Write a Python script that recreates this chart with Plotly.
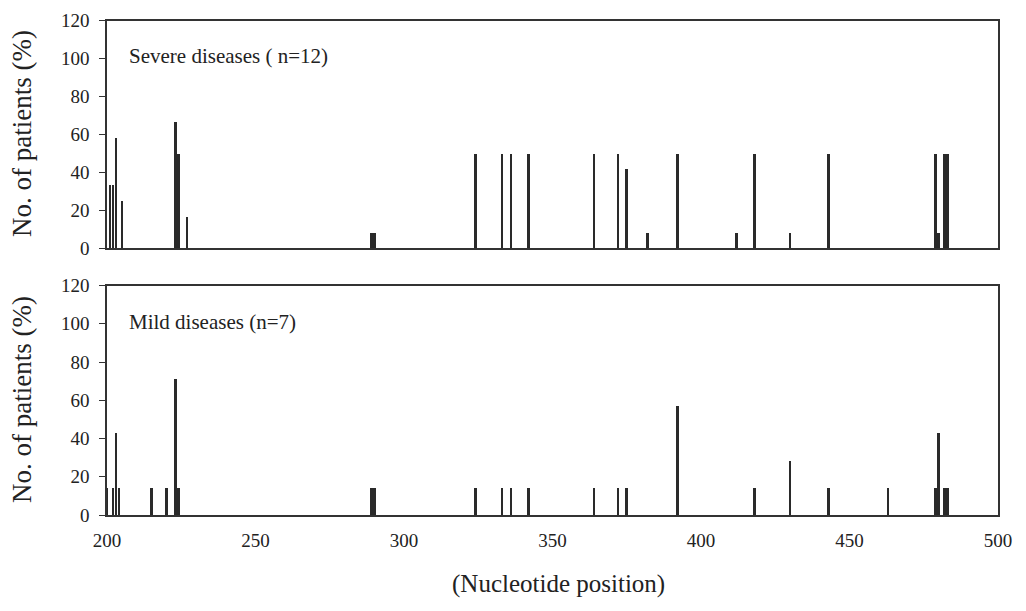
import plotly.graph_objects as go

# Severe diseases (n=12)
severe_pos = [201, 202, 203, 205, 223, 224, 227, 289, 290, 324, 333, 336, 342,
              364, 372, 375, 382, 392, 412, 418, 430, 443, 479, 480, 482, 483]
severe_pct = [33.3, 33.3, 58.3, 25.0, 66.7, 50.0, 16.7, 8.3, 8.3, 50.0, 50.0, 50.0, 50.0,
              50.0, 50.0, 41.7, 8.3, 50.0, 8.3, 50.0, 8.3, 50.0, 50.0, 8.3, 50.0, 50.0]

# Mild diseases (n=7)
mild_pos = [200, 202, 203, 204, 215, 220, 223, 224, 289, 290, 324, 333, 336, 342,
            364, 372, 375, 392, 418, 430, 443, 463, 479, 480, 482, 483]
mild_pct = [14.3, 14.3, 42.9, 14.3, 14.3, 14.3, 71.4, 14.3, 14.3, 14.3, 14.3, 14.3, 14.3, 14.3,
            14.3, 14.3, 14.3, 57.1, 14.3, 28.6, 14.3, 14.3, 14.3, 42.9, 14.3, 14.3]

x_ticks = [200, 250, 300, 350, 400, 450, 500]
y_ticks = [0, 20, 40, 60, 80, 100, 120]

panel_labels = ["Severe diseases ( n=12)", "Mild diseases (n=7)"]
y_title = "No. of patients (%)"
x_title = "(Nucleotide position)"

FONT = "Liberation Serif"
BAR = "#2a2a2a"
AX = "#333333"

fig = go.Figure()
fig.add_trace(go.Bar(x=severe_pos, y=severe_pct, width=0.85, marker=dict(color=BAR, line=dict(width=0)),
                     xaxis="x", yaxis="y", showlegend=False))
fig.add_trace(go.Bar(x=mild_pos, y=mild_pct, width=0.85, marker=dict(color=BAR, line=dict(width=0)),
                     xaxis="x2", yaxis="y2", showlegend=False))

# page body has an 8px margin; figure is placed at (8, 8)
OFF = 8
W, H = 1026 - 2 * OFF, 611 - 2 * OFF


def px(x):
    return (x - OFF) / W


def py(y):
    return 1 - (y - OFF) / H


xd = [px(107), px(998)]
top_dom = [py(248), py(20.5)]
bot_dom = [py(515), py(285.5)]

common_y = dict(range=[0, 120], tickvals=y_ticks, ticks="outside", ticklen=6, tickwidth=1.2,
                tickcolor=AX, showline=True, linecolor=AX, linewidth=1.5, mirror=True,
                showgrid=False, zeroline=False, tickfont=dict(family=FONT, size=19, color="#222"),
                ticklabelstandoff=6, automargin=False)
common_x = dict(range=[200, 500], tickvals=x_ticks, showline=True, linecolor=AX, linewidth=1.5,
                mirror=True, showgrid=False, zeroline=False, ticks="", automargin=False,
                tickfont=dict(family=FONT, size=19, color="#222"))

fig.update_layout(
    width=W, height=H, margin=dict(l=0, r=0, t=0, b=0),
    paper_bgcolor="white", plot_bgcolor="white", bargap=0,
    xaxis=dict(domain=xd, anchor="y", showticklabels=False, **common_x),
    yaxis=dict(domain=top_dom, anchor="x", **common_y),
    xaxis2=dict(domain=xd, anchor="y2", showticklabels=True, ticklabelstandoff=7, **common_x),
    yaxis2=dict(domain=bot_dom, anchor="x2", **common_y),
)

ann = [
    dict(text=panel_labels[0], x=px(127), y=py(56), xanchor="left", yanchor="middle", size=21),
    dict(text=panel_labels[1], x=px(127), y=py(322), xanchor="left", yanchor="middle", size=21),
    dict(text=y_title, x=px(22), y=py(134), textangle=-90, xanchor="center", yanchor="middle", size=27),
    dict(text=y_title, x=px(22), y=py(400), textangle=-90, xanchor="center", yanchor="middle", size=27),
    dict(text=x_title, x=px(558), y=py(584), xanchor="center", yanchor="middle", size=25),
]
for a in ann:
    size = a.pop("size")
    a.update(xref="paper", yref="paper", showarrow=False,
             font=dict(family=FONT, size=size, color="#222"))
    fig.add_annotation(**a)

fig.write_html("out.html")
